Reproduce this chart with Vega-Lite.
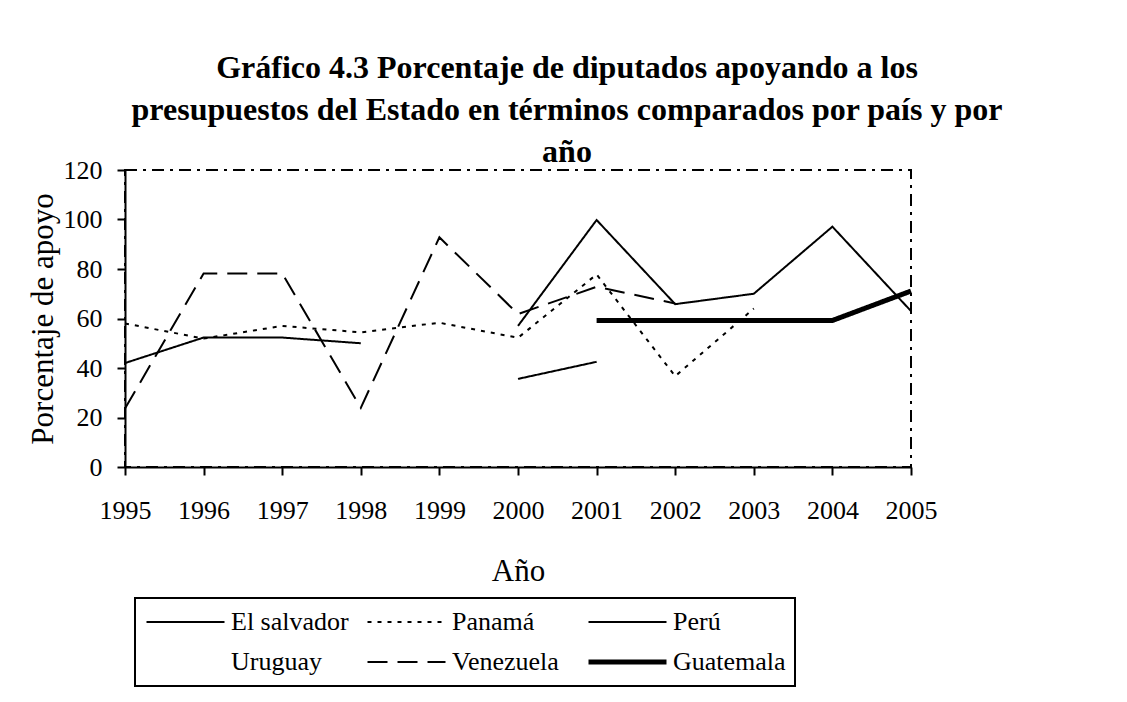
{
  "$schema": "https://vega.github.io/schema/vega-lite/v6.json",
  "width": 786,
  "height": 297,
  "autosize": "none",
  "padding": {"left": 125, "top": 170, "right": 216, "bottom": 235},
  "background": "white",
  "title": {
    "text": ["Gráfico 4.3 Porcentaje de diputados apoyando a los", "presupuestos del Estado en términos comparados por país y por", "año"],
    "font": "Liberation Serif",
    "fontSize": 32,
    "fontWeight": "bold",
    "lineHeight": 42,
    "color": "black",
    "anchor": "middle",
    "dx": 49,
    "offset": -12
  },
  "data": {
    "values": [
      {"country": "El salvador", "year": 1995, "value": 42},
      {"country": "El salvador", "year": 1996, "value": 52.3},
      {"country": "El salvador", "year": 1997, "value": 52.3},
      {"country": "El salvador", "year": 1998, "value": 50},
      {"country": "El salvador", "year": 1999, "value": null},
      {"country": "El salvador", "year": 2000, "value": 35.6},
      {"country": "El salvador", "year": 2001, "value": 42.5},
      {"country": "Panamá", "year": 1995, "value": 58},
      {"country": "Panamá", "year": 1996, "value": 51.9},
      {"country": "Panamá", "year": 1997, "value": 57},
      {"country": "Panamá", "year": 1998, "value": 54.4},
      {"country": "Panamá", "year": 1999, "value": 58.3},
      {"country": "Panamá", "year": 2000, "value": 52.2},
      {"country": "Panamá", "year": 2001, "value": 77.8},
      {"country": "Panamá", "year": 2002, "value": 36.7},
      {"country": "Panamá", "year": 2003, "value": 64},
      {"country": "Perú", "year": 2000, "value": 57},
      {"country": "Perú", "year": 2001, "value": 99.8},
      {"country": "Perú", "year": 2002, "value": 65.8},
      {"country": "Perú", "year": 2003, "value": 70},
      {"country": "Perú", "year": 2004, "value": 97.1},
      {"country": "Perú", "year": 2005, "value": 63},
      {"country": "Venezuela", "year": 1995, "value": 23.6},
      {"country": "Venezuela", "year": 1996, "value": 78.2},
      {"country": "Venezuela", "year": 1997, "value": 78.2},
      {"country": "Venezuela", "year": 1998, "value": 23.9},
      {"country": "Venezuela", "year": 1999, "value": 92.8},
      {"country": "Venezuela", "year": 2000, "value": 61.8},
      {"country": "Venezuela", "year": 2001, "value": 72.8},
      {"country": "Venezuela", "year": 2002, "value": 66.1},
      {"country": "Guatemala", "year": 2001, "value": 59.2},
      {"country": "Guatemala", "year": 2002, "value": 59.2},
      {"country": "Guatemala", "year": 2003, "value": 59.2},
      {"country": "Guatemala", "year": 2004, "value": 59.2},
      {"country": "Guatemala", "year": 2005, "value": 71.1}
    ]
  },
  "mark": {"type": "line", "color": "black", "invalid": "break-paths-show-domains", "strokeJoin": "miter"},
  "encoding": {
    "x": {
      "field": "year",
      "type": "quantitative",
      "scale": {"domain": [1995, 2005], "nice": false, "zero": false},
      "axis": {
        "values": [1995, 1996, 1997, 1998, 1999, 2000, 2001, 2002, 2003, 2004, 2005],
        "format": "d",
        "title": "Año",
        "labelPadding": 22,
        "titlePadding": 33,
        "labelFlush": false,
        "labelOverlap": false
      }
    },
    "y": {
      "field": "value",
      "type": "quantitative",
      "scale": {"domain": [0, 120], "nice": false},
      "axis": {
        "values": [0, 20, 40, 60, 80, 100, 120],
        "title": "Porcentaje de apoyo",
        "labelPadding": 15,
        "titlePadding": 4
      }
    },
    "strokeDash": {
      "field": "country",
      "type": "nominal",
      "sort": null,
      "scale": {
        "domain": ["El salvador", "Panamá", "Perú", "Uruguay", "Venezuela", "Guatemala"],
        "range": [[1, 0], [4, 6], [1, 0], [1, 0], [20, 10], [1, 0]]
      },
      "legend": {
        "orient": "none",
        "legendX": 10,
        "legendY": 428,
        "direction": "horizontal",
        "columns": 3,
        "title": null,
        "strokeColor": "black",
        "padding": 9,
        "symbolType": "stroke",
        "symbolSize": 6084,
        "symbolStrokeColor": "black",
        "labelFont": "Liberation Serif",
        "labelFontSize": 26,
        "labelColor": "black",
        "labelOffset": 4,
        "labelLimit": 300,
        "rowPadding": 10,
        "columnPadding": 16,
        "gridAlign": "all",
        "clipHeight": 30,
        "encode": {"legend": {"update": {"strokeWidth": {"value": 2}}}}
      }
    },
    "strokeWidth": {
      "field": "country",
      "type": "nominal",
      "sort": null,
      "scale": {
        "type": "ordinal",
        "domain": ["El salvador", "Panamá", "Perú", "Uruguay", "Venezuela", "Guatemala"],
        "range": [2, 2, 2, 0, 2, 5]
      },
      "legend": {
        "orient": "none",
        "legendX": 10,
        "legendY": 428,
        "direction": "horizontal",
        "columns": 3,
        "title": null,
        "strokeColor": "black",
        "padding": 9,
        "symbolType": "stroke",
        "symbolSize": 6084,
        "symbolStrokeColor": "black",
        "labelFont": "Liberation Serif",
        "labelFontSize": 26,
        "labelColor": "black",
        "labelOffset": 4,
        "labelLimit": 300,
        "rowPadding": 10,
        "columnPadding": 16,
        "gridAlign": "all",
        "clipHeight": 30,
        "encode": {"legend": {"update": {"strokeWidth": {"value": 2}}}}
      }
    }
  },
  "config": {
    "view": {"stroke": "black", "strokeWidth": 2, "strokeDash": [12, 6, 3, 6]},
    "axis": {
      "domainColor": "black",
      "domainWidth": 2,
      "tickColor": "black",
      "tickWidth": 2,
      "tickSize": 8,
      "grid": false,
      "labelFont": "Liberation Serif",
      "labelFontSize": 26,
      "labelColor": "black",
      "titleFont": "Liberation Serif",
      "titleFontSize": 31,
      "titleFontWeight": "normal",
      "titleColor": "black"
    }
  }
}
